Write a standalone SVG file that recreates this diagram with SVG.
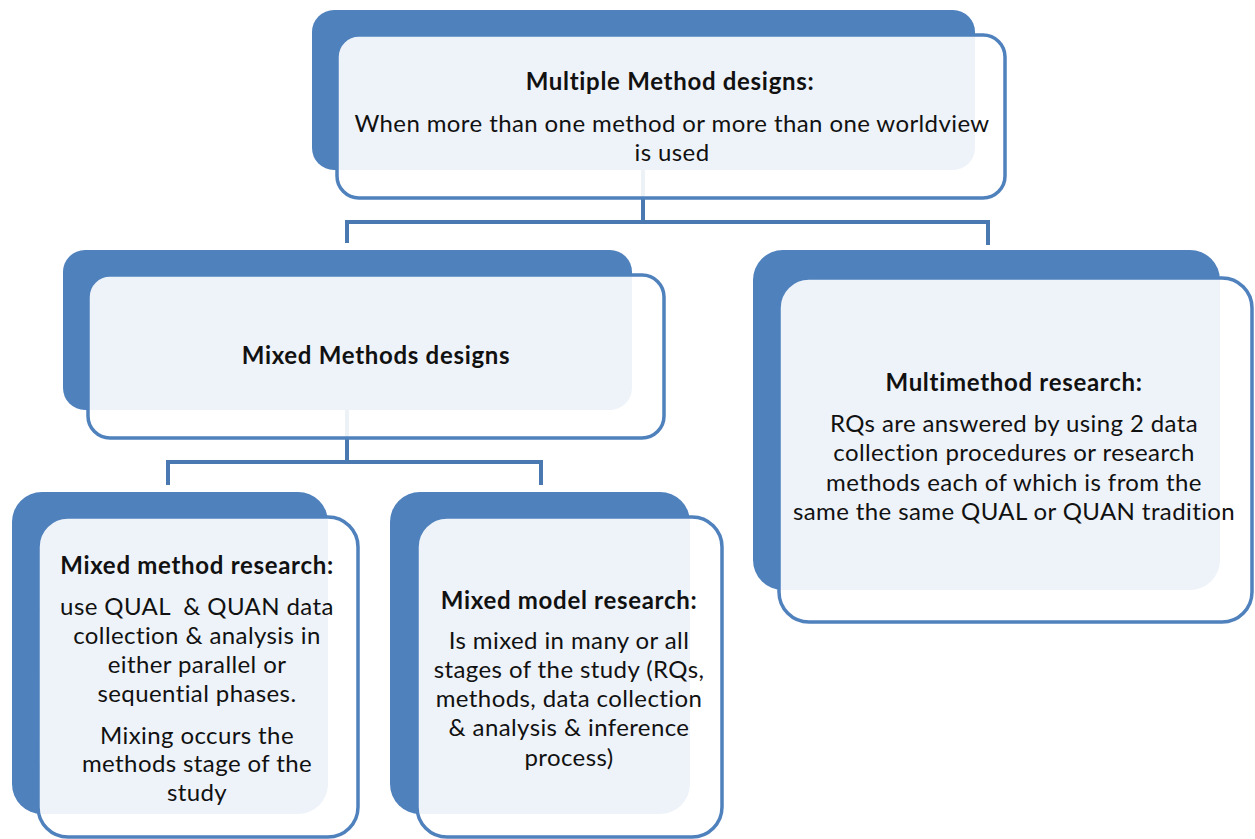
<svg xmlns="http://www.w3.org/2000/svg" width="1255" height="839" viewBox="0 0 1255 839">
<style>
.back{fill:#4f81bd;}
.front{fill:#ffffff;fill-opacity:0.9;stroke:#4f81bd;stroke-width:3.5;}
.conn{fill:none;stroke:#4a78b0;stroke-width:4;}
text{font-family:Lato,"Open Sans","Liberation Sans",sans-serif;font-size:24px;letter-spacing:0.4px;fill:#111;text-anchor:middle;}
.b{font-weight:bold;letter-spacing:0.7px;}
</style>
<rect width="1255" height="839" fill="#ffffff"/>
<g id="connectors">
<path class="conn" d="M643,170 V222 M347,243 V222 H988 V245"/>
<path class="conn" d="M347,410 V462 M168,485 V462 H541 V485"/>
</g>
<g id="node-multiple">
<rect class="back" x="312" y="10" width="663" height="160" rx="22"/>
<rect class="front" x="337" y="35" width="668" height="163" rx="22"/>
<text class="b" x="670" y="90">Multiple Method designs:</text>
<text x="672" y="132">When more than one method or more than one worldview</text>
<text x="672" y="161">is used</text>
</g>
<g id="node-mixed-methods">
<rect class="back" x="63" y="250" width="569" height="160" rx="22"/>
<rect class="front" x="88" y="275" width="576" height="163" rx="22"/>
<text class="b" x="376" y="364">Mixed Methods designs</text>
</g>
<g id="node-multimethod">
<rect class="back" x="753" y="250" width="467" height="340" rx="30"/>
<rect class="front" x="779" y="278" width="473" height="344" rx="30"/>
<text class="b" x="1014" y="391">Multimethod research:</text>
<text x="1014" y="432">RQs are answered by using 2 data</text>
<text x="1014" y="461">collection procedures or research</text>
<text x="1014" y="491">methods each of which is from the</text>
<text x="1014" y="520">same the same QUAL or QUAN tradition</text>
</g>
<g id="node-mixed-method-research">
<rect class="back" x="12" y="492" width="316" height="322" rx="30"/>
<rect class="front" x="38" y="517" width="320" height="320" rx="30"/>
<text class="b" x="197" y="574">Mixed method research:</text>
<text x="197" y="615" xml:space="preserve">use QUAL  &amp; QUAN data</text>
<text x="197" y="644">collection &amp; analysis in</text>
<text x="197" y="673">either parallel or</text>
<text x="197" y="702">sequential phases.</text>
<text x="197" y="744">Mixing occurs the</text>
<text x="197" y="772">methods stage of the</text>
<text x="197" y="801">study</text>
</g>
<g id="node-mixed-model-research">
<rect class="back" x="390" y="492" width="300" height="322" rx="30"/>
<rect class="front" x="417" y="517" width="305" height="320" rx="30"/>
<text class="b" x="569" y="609">Mixed model research:</text>
<text x="569" y="649">Is mixed in many or all</text>
<text x="569" y="678">stages of the study (RQs,</text>
<text x="569" y="707">methods, data collection</text>
<text x="569" y="736">&amp; analysis &amp; inference</text>
<text x="569" y="766">process)</text>
</g>
</svg>
